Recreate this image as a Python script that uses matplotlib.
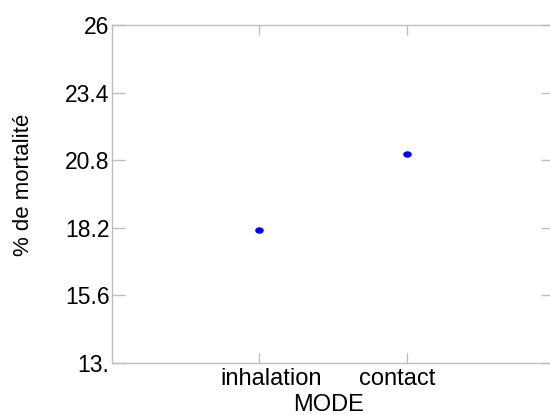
import matplotlib
matplotlib.use("Agg")
import matplotlib.pyplot as plt
from matplotlib.path import Path
from matplotlib.markers import MarkerStyle
from matplotlib.transforms import Affine2D, ScaledTranslation

plt.rcParams['font.family'] = ['Liberation Sans', 'DejaVu Sans']

# Mortality by exposure mode
modes = ["inhalation", "contact"]
mortality = [18.1, 21.03]
y_ticks = [13.0, 15.6, 18.2, 20.8, 23.4, 26.0]
y_tick_labels = ["13.", "15.6", "18.2", "20.8", "23.4", "26"]

fig = plt.figure(figsize=(5.5, 4.15), dpi=100)
ax = fig.add_axes([0.2029, 0.1263, 0.805, 0.8135])

xpos = list(range(1, len(modes) + 1))

# slightly wide elliptical dot
dot = MarkerStyle(Path.unit_circle().transformed(Affine2D().scale(1.33, 1.0)))
ax.plot(xpos, mortality, linestyle="none", marker=dot, markersize=6.2,
        color="#0000ff", markeredgewidth=0)

ax.set_xlim(0, len(modes) + 1)
ax.set_ylim(y_ticks[0], y_ticks[-1])

spine_col = "#bdbdbd"
for s in ax.spines.values():
    s.set_color(spine_col)
    s.set_linewidth(1.0)

ax.set_xticks(xpos)
ax.set_xticklabels(modes, fontsize=17)
ax.set_yticks(y_ticks)
ax.set_yticklabels(y_tick_labels, fontsize=16.5)

ax.tick_params(axis="x", direction="in", length=7, width=1.0, color=spine_col,
               top=True, pad=4)
ax.tick_params(axis="y", direction="in", length=9.3, width=1.0, color=spine_col,
               right=True, pad=1.5)

# nudge category labels apart from their ticks
shifts = [11.5, -9.5]
for lab, dx in zip(ax.get_xticklabels(), shifts):
    lab.set_transform(lab.get_transform() + ScaledTranslation(dx / 100, 0, fig.dpi_scale_trans))

ax.set_xlabel("MODE", fontsize=17)
ax.xaxis.set_label_coords(0.491, -0.092)
ax.set_ylabel("% de mortalité", fontsize=16, va="center")
ax.yaxis.set_label_coords(-0.198, 0.526)

fig.savefig("out.png", dpi=100)
